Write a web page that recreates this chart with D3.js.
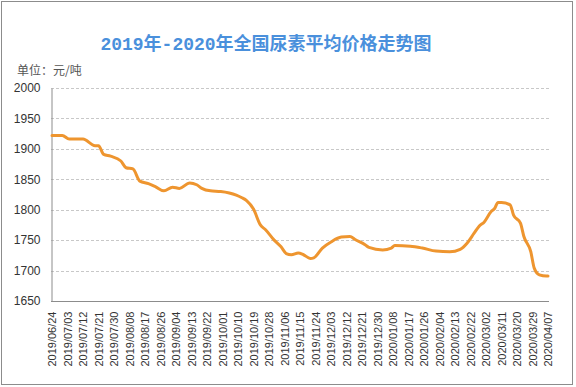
<!DOCTYPE html>
<html>
    <head>
        <meta charset="utf-8">
        <script src="https://d3js.org/d3.v7.min.js"></script>
        <style>
            body { margin: 0; background: #fff; }
        </style>
    </head>
    <body>
        <div id="my_dataviz"></div>
        <script>
            // values (yuan / ton)
            const dates = ["2019/06/24","2019/06/30","2019/07/04","2019/07/12","2019/07/19","2019/07/21","2019/07/24","2019/07/28",
                "2019/08/03","2019/08/06","2019/08/10","2019/08/14","2019/08/19","2019/08/23","2019/08/28","2019/09/02",
                "2019/09/06","2019/09/12","2019/09/16","2019/09/19","2019/09/24","2019/09/30","2019/10/09","2019/10/12",
                "2019/10/15","2019/10/19","2019/10/23","2019/10/26","2019/10/31","2019/11/04","2019/11/07","2019/11/10",
                "2019/11/14","2019/11/17","2019/11/21","2019/11/23","2019/11/28","2019/12/03","2019/12/09","2019/12/14",
                "2019/12/17","2019/12/23","2019/12/25","2020/01/02","2020/01/07","2020/01/09","2020/01/18","2020/01/25",
                "2020/02/02","2020/02/10","2020/02/16","2020/02/20","2020/02/24","2020/02/27","2020/03/01","2020/03/05",
                "2020/03/07","2020/03/09","2020/03/11","2020/03/16","2020/03/18","2020/03/22","2020/03/24","2020/03/28",
                "2020/03/30","2020/04/02","2020/04/06","2020/04/07"];
            const prices = [1922,1922,1916,1916,1905,1905,1891,1888,
                1880,1869,1867,1847,1843,1838,1831,1837,
                1835,1844,1841,1835,1831,1830,1824,1820,
                1815,1801,1775,1767,1750,1739,1728,1726,
                1729,1726,1720,1721,1737,1747,1755,1756,
                1751,1742,1738,1734,1737,1741,1740,1737,
                1732,1731,1735,1745,1761,1773,1780,1797,
                1802,1812,1812,1808,1791,1778,1756,1731,
                1704,1693,1691,1691];
            const tickLabels = ["2019/06/24","2019/07/03","2019/07/12","2019/07/21","2019/07/30","2019/08/08","2019/08/17",
                "2019/08/26","2019/09/04","2019/09/13","2019/09/22","2019/10/01","2019/10/10","2019/10/19","2019/10/28",
                "2019/11/06","2019/11/15","2019/11/24","2019/12/03","2019/12/12","2019/12/21","2019/12/30","2020/01/08",
                "2020/01/17","2020/01/26","2020/02/04","2020/02/13","2020/02/22","2020/03/02","2020/03/11","2020/03/20",
                "2020/03/29","2020/04/07"];
            const yTicks = [1650,1700,1750,1800,1850,1900,1950,2000];

            const W = 576, H = 387;
            const plot = {left: 51, right: 549, top: 88, bottom: 301};
            const parse = d3.timeParse("%Y/%m/%d");

            const svg = d3.select("#my_dataviz")
                .append("svg")
                    .attr("width", W)
                    .attr("height", H)
                    .style("font-family", "Arial, 'Liberation Sans', 'Noto Sans CJK SC', sans-serif");

            // outer frame
            svg.append("rect")
                .attr("x", 1.5).attr("y", 1.5)
                .attr("width", 571).attr("height", 383)
                .attr("fill", "#fff")
                .attr("stroke", "#8c8c8c");

            const x = d3.scaleTime()
                .domain([parse(tickLabels[0]), parse(tickLabels[tickLabels.length - 1])])
                .range([52, 548]);
            const y = d3.scaleLinear()
                .domain([1650, 2000])
                .range([plot.bottom, plot.top]);

            // grid lines
            svg.append("g")
                .selectAll("line")
                .data(yTicks.filter(d => d > 1650))
                .join("line")
                    .attr("x1", plot.left).attr("x2", plot.right)
                    .attr("y1", d => Math.round(y(d)) + 0.5)
                    .attr("y2", d => Math.round(y(d)) + 0.5)
                    .attr("stroke", "#c8c8c8")
                    .attr("stroke-dasharray", "3,2");

            // y axis
            const yAxis = svg.append("g")
                .attr("transform", `translate(${plot.left + 0.5},0)`)
                .call(d3.axisLeft(y).tickValues(yTicks).tickSize(0).tickPadding(11).tickFormat(d3.format("d")));
            yAxis.select(".domain").attr("stroke", "#8c8c8c");
            yAxis.selectAll("text").attr("font-size", 12).attr("fill", "#333");

            // x axis
            const xAxis = svg.append("g")
                .attr("transform", `translate(0,${plot.bottom + 0.5})`)
                .call(d3.axisBottom(x).tickValues(tickLabels.map(parse)).tickSize(0)
                    .tickFormat(d3.timeFormat("%Y/%m/%d")));
            xAxis.select(".domain").attr("stroke", "#8c8c8c").attr("d", `M${plot.left},0H${plot.right}`);
            xAxis.selectAll("text")
                .attr("font-size", 11)
                .attr("fill", "#333")
                .attr("text-anchor", "end")
                .attr("dy", "0.35em")
                .attr("transform", "translate(0,10) rotate(-90)")
                .attr("x", 0).attr("y", 0);

            // price line
            const line = d3.line()
                .x((d, i) => x(parse(dates[i])))
                .y(d => y(d))
                .curve(d3.curveMonotoneX);
            svg.append("path")
                .datum(prices)
                .attr("d", line)
                .attr("fill", "none")
                .attr("stroke", "#ee952f")
                .attr("stroke-width", 3)
                .attr("stroke-linejoin", "round")
                .attr("stroke-linecap", "round");

            // title & unit
            svg.append("text")
                .attr("x", 266).attr("y", 50)
                .attr("text-anchor", "middle")
                .attr("font-size", 18)
                .attr("font-weight", "bold")
                .attr("fill", "#4a90dc")
                .style("font-family", "'Liberation Mono', 'Noto Sans CJK SC', monospace")
                .text("2019年-2020年全国尿素平均价格走势图");
            svg.append("text")
                .attr("x", 17).attr("y", 75)
                .attr("font-size", 12)
                .attr("fill", "#555")
                .style("font-family", "'Noto Sans CJK SC', sans-serif")
                .text("单位：元/吨");
        </script>
    </body>
</html>
